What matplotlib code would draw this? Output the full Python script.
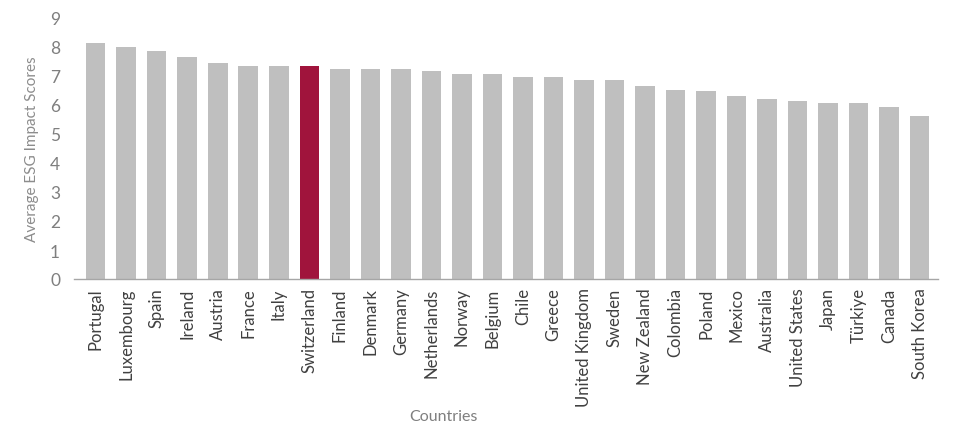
import matplotlib
matplotlib.use("Agg")
import matplotlib.pyplot as plt

countries = ["Portugal", "Luxembourg", "Spain", "Ireland", "Austria", "France", "Italy",
             "Switzerland", "Finland", "Denmark", "Germany", "Netherlands", "Norway",
             "Belgium", "Chile", "Greece", "United Kingdom", "Sweden", "New Zealand",
             "Colombia", "Poland", "Mexico", "Australia", "United States", "Japan",
             "Türkiye", "Canada", "South Korea"]
scores = [8.14, 7.99, 7.85, 7.64, 7.46, 7.34, 7.34, 7.34, 7.23, 7.23, 7.23, 7.17, 7.06,
          7.06, 6.98, 6.98, 6.87, 6.87, 6.67, 6.51, 6.47, 6.30, 6.20, 6.13, 6.08,
          6.08, 5.92, 5.63]
highlight = "Switzerland"
yticks = list(range(0, 10))

plt.rcParams['font.family'] = ['Lato', 'DejaVu Sans']

fig = plt.figure(figsize=(9.6, 4.39), dpi=100)
ax = fig.add_axes([74/960, 1-280/439, (938-74)/960, (280-19)/439])

colors = ["#A0143C" if c == highlight else "#BFBFBF" for c in countries]
x = list(range(len(countries)))
ax.bar(x, scores, width=0.64, color=colors, zorder=2)

ax.set_xlim(-0.71, len(countries) - 0.4)
ax.set_ylim(0, 9)
ax.set_yticks(yticks)
ax.set_yticklabels([str(t) for t in yticks], fontsize=12.5, color="#7F7F7F")
ax.set_xticks(x)
ax.set_xticklabels(countries, rotation=90, fontsize=12, color="#404040")
ax.tick_params(axis='both', length=0)
ax.tick_params(axis='y', pad=10)
ax.tick_params(axis='x', pad=6)

for s in ["top", "right", "left"]:
    ax.spines[s].set_visible(False)
ax.spines["bottom"].set_color("#A6A6A6")
ax.spines["bottom"].set_linewidth(1)

ax.set_ylabel("Average ESG Impact Scores", fontsize=11, color="#8C8C8C", labelpad=8)
ax.set_xlabel("Countries", fontsize=11.5, color="#7F7F7F")
ax.xaxis.set_label_coords((443-74)/(938-74), (280-410)/(280-19))

fig.savefig("out.png", dpi=100)
